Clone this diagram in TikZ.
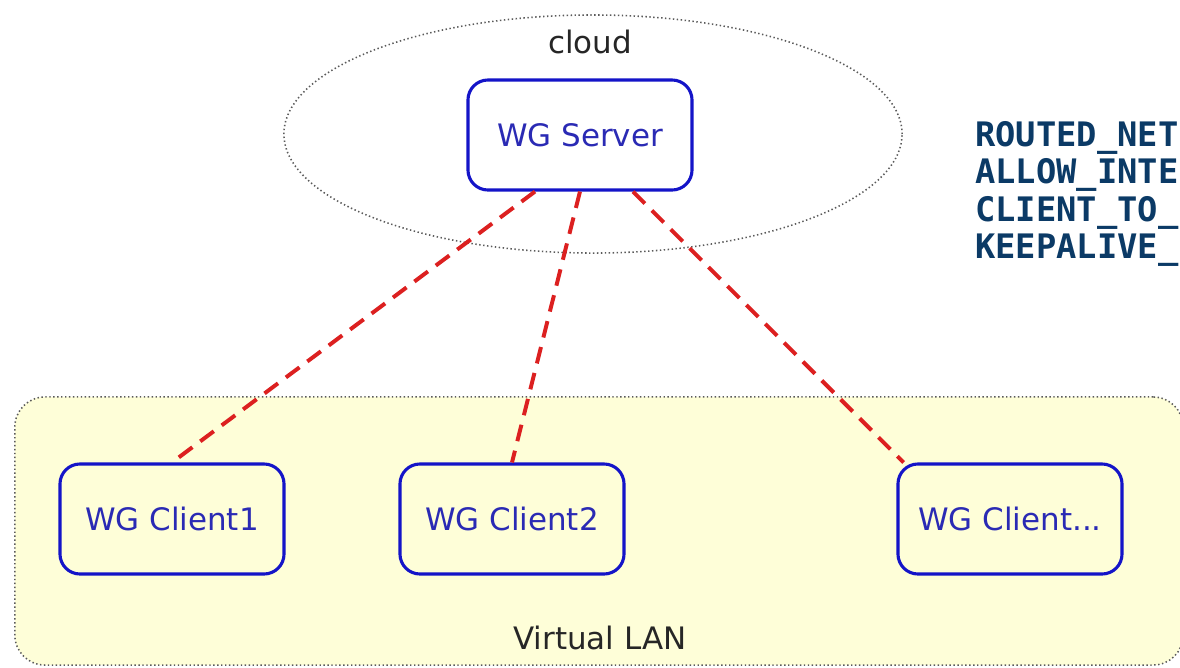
\documentclass[tikz,border=0pt]{standalone}
\usepackage{fontspec}
\setmainfont{DejaVu Sans}
\newfontfamily\codefont{DejaVu Sans Mono}
\usepackage{xcolor}
\usetikzlibrary{positioning, shapes.geometric}

\definecolor{wgblue}{HTML}{1414C8}
\definecolor{wgtext}{HTML}{2A2AB4}
\definecolor{linkred}{HTML}{DC2020}
\definecolor{lanfill}{HTML}{FEFED8}
\definecolor{dotgray}{HTML}{5A5A5A}
\definecolor{varnavy}{HTML}{0B3A66}

\tikzset{
  wgbox/.style={draw=wgblue, line width=2.2pt, rounded corners=0.5cm,
    minimum width=5.6cm, minimum height=2.75cm, text=wgtext,
    font=\fontsize{22}{26}\selectfont},
  vpnlink/.style={draw=linkred, line width=2.8pt, dash pattern=on 12pt off 7pt},
  areabox/.style={draw=dotgray, line width=1.1pt, dash pattern=on 1pt off 1.8pt},
  arealabel/.style={text=black!85, font=\fontsize{22}{26}\selectfont}
}

\begin{document}
\begin{tikzpicture}[x=0.025cm, y=-0.025cm]

  \clip (0,0) rectangle (1180,667);
  \fill[white] (0,0) rectangle (1180,667);

  % areas
  \node[areabox, ellipse, minimum width=15.45cm, minimum height=5.95cm] (cloud) at (593,134) {};
  \node[arealabel] (cloudlabel) at (590,42) {cloud};

  \node[areabox, fill=lanfill, rounded corners=0.75cm, minimum width=29.2cm, minimum height=6.7cm] (lan) at (599,531) {};
  \node[arealabel] (lanlabel) at (600,638) {Virtual LAN};

  % wireguard nodes
  \node[wgbox] (server) at (580,135) {WG Server};
  \node[wgbox] (client1) at (172,519) {WG Client1};
  \node[wgbox] (client2) at (512,519) {WG Client2};
  \node[wgbox] (client3) at (1010,519) {WG Client...};

  \draw[vpnlink] ([xshift=-1.125cm]server.south) -- (client1.north);
  \draw[vpnlink] (server.south) -- (client2.north);
  \draw[vpnlink] ([xshift=1.325cm]server.south) -- ([xshift=0.18cm]client3.north west);

  % settings
  \node[anchor=north west, align=left, inner sep=0pt, text=varnavy,
    font=\codefont\bfseries\fontsize{24}{26.6}\selectfont] (settings) at (975,121)
  {ROUTED\_NET\\ALLOW\_INTE\\CLIENT\_TO\_\\KEEPALIVE\_};

\end{tikzpicture}
\end{document}
